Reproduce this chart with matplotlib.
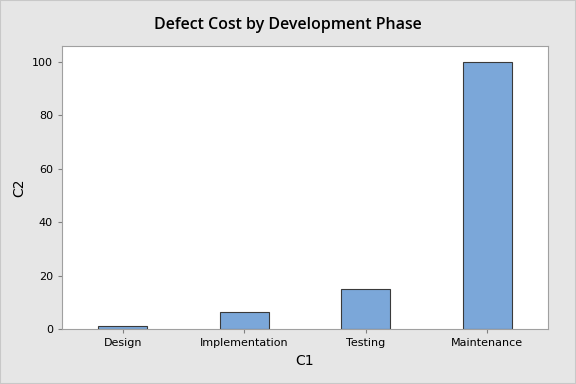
import matplotlib.pyplot as plt

phases = ['Design', 'Implementation', 'Testing', 'Maintenance']
costs = [1, 6.5, 15, 100]
yticks = [0, 20, 40, 60, 80, 100]

fig = plt.figure(figsize=(5.76, 3.84), dpi=100, facecolor='#e6e6e6')
ax = fig.add_axes([62 / 576, 1 - 329 / 384, 486 / 576, 283 / 384])
ax.set_facecolor('white')

ax.bar(range(len(phases)), costs, width=0.4, color='#7ba7d9',
       edgecolor='#3a3a3a', linewidth=0.8)

ax.set_xlim(-0.5, 3.5)
ax.set_ylim(0, 106)
ax.set_xticks(range(len(phases)))
ax.set_xticklabels(phases)
ax.set_yticks(yticks)
ax.tick_params(labelsize=8, color='#808080', length=3)

for s in ax.spines.values():
    s.set_color('#a0a0a0')

ax.set_xlabel('C1', fontsize=10)
ax.set_ylabel('C2', fontsize=10)
fig.text(0.5, 1 - 25 / 384, 'Defect Cost by Development Phase',
         ha='center', va='center', fontsize=11.5, fontweight='semibold',
         family=['Open Sans', 'DejaVu Sans'])

# outer frame
fig.patches.append(plt.Rectangle((0, 0), 1, 1, transform=fig.transFigure,
                                 fill=False, edgecolor='#c8c8c8', linewidth=1.5))

fig.savefig('out.png', dpi=100, facecolor=fig.get_facecolor())
